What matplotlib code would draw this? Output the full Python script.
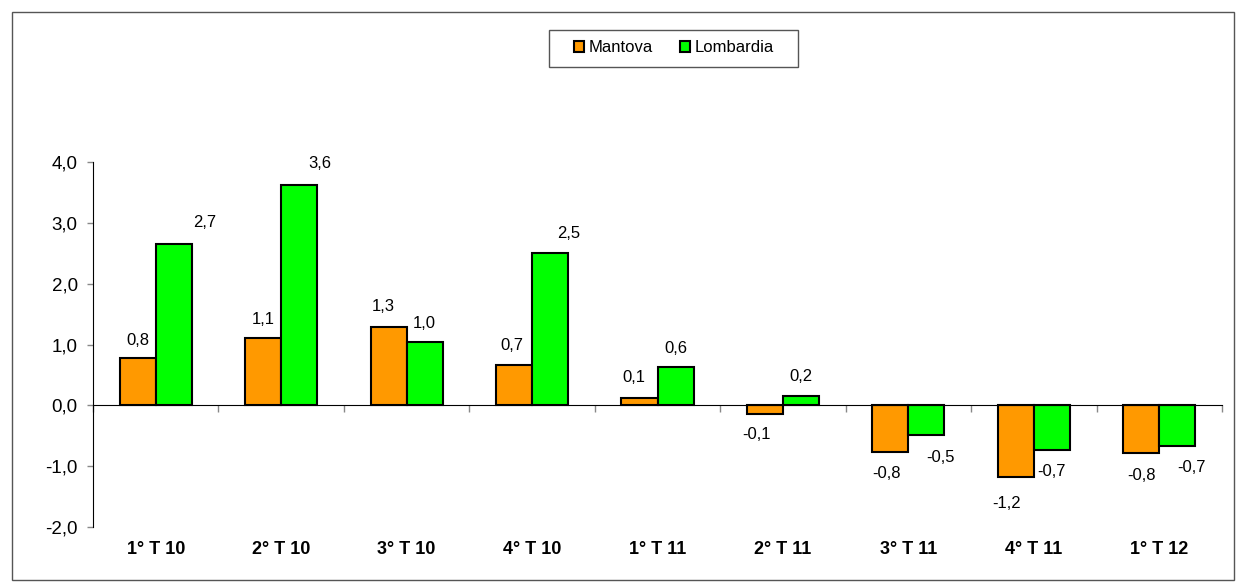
import matplotlib.pyplot as plt
import matplotlib.transforms as mtransforms
from matplotlib.patches import Rectangle
import numpy as np

plt.rcParams['font.family'] = ['Liberation Sans', 'DejaVu Sans']

categories = ['1° T 10', '2° T 10', '3° T 10', '4° T 10', '1° T 11',
              '2° T 11', '3° T 11', '4° T 11', '1° T 12']
mantova = [0.77, 1.10, 1.28, 0.67, 0.12, -0.14, -0.77, -1.18, -0.79]
lombardia = [2.66, 3.62, 1.04, 2.50, 0.63, 0.16, -0.49, -0.74, -0.67]

# label offsets in pixels (dx, dy) from the bar tip
off_m = [(0, 18), (0, 19), (-5, 21), (-2, 19), (-6, 21), (-8, -21), (-4, -21), (-9, -26), (0, -22)]
off_l = [(31, 21), (21, 22), (0, 19), (19, 20), (0, 19), (0, 19), (14, -22), (0, -21), (14, -21)]

fig = plt.figure(figsize=(12.42, 5.88), dpi=100)
ax = fig.add_axes([93/1242, 1-527/588, (1222-93)/1242, 365/588])

x = np.arange(len(categories))
w = 0.287
bm = ax.bar(x - w/2, mantova, w, color='#FF9900', edgecolor='black', linewidth=1.5, label='Mantova')
bl = ax.bar(x + w/2, lombardia, w, color='#00FF00', edgecolor='black', linewidth=1.5, label='Lombardia')

def fmt(v):
    return ('%.1f' % v).replace('.', ',')

for bars, vals, offs in ((bm, mantova, off_m), (bl, lombardia, off_l)):
    for b, v, o in zip(bars, vals, offs):
        ax.annotate(fmt(v), (b.get_x() + b.get_width()/2, v), xytext=o,
                    textcoords='offset pixels', ha='center', va='center', fontsize=12)

ax.set_xlim(-0.5, len(categories) - 0.5)
ax.set_ylim(-2, 4)
ax.set_yticks(np.arange(-2, 4.1, 1))
ax.set_yticklabels([fmt(t) for t in np.arange(-2, 4.1, 1)], fontsize=13.5)
ax.tick_params(axis='y', direction='out', length=4, width=1, color='#888888', pad=7)

ax.spines['right'].set_color('none')
ax.spines['top'].set_color('none')
ax.spines['bottom'].set_position(('data', 0))
ax.set_xticks(np.arange(-0.5, len(categories), 1))
ax.set_xticklabels([])
ax.tick_params(axis='x', direction='out', length=5, width=1, color='#888888')

trans = mtransforms.blended_transform_factory(ax.transData, ax.transAxes)
for i, c in enumerate(categories):
    ax.text(i, -0.063, c, transform=trans, ha='center', va='center',
            fontsize=13, fontweight='bold')

leg = fig.legend(loc='center', bbox_to_anchor=(674/1242, 1-48/588), ncol=2,
                 fontsize=12, frameon=False, handlelength=0.6, handleheight=0.6,
                 handletextpad=0.3, columnspacing=1.6)
for h in leg.legend_handles:
    h.set_linewidth(1.5)

fig.patches.append(Rectangle((549/1242, 1-67/588), 249/1242, 37/588, transform=fig.transFigure,
                             fill=False, edgecolor='#555555', linewidth=1))
fig.patches.append(Rectangle((12/1242, 8/588), 1222/1242, 568/588, transform=fig.transFigure,
                             fill=False, edgecolor='#555555', linewidth=1))

fig.savefig('out.png', dpi=100)
